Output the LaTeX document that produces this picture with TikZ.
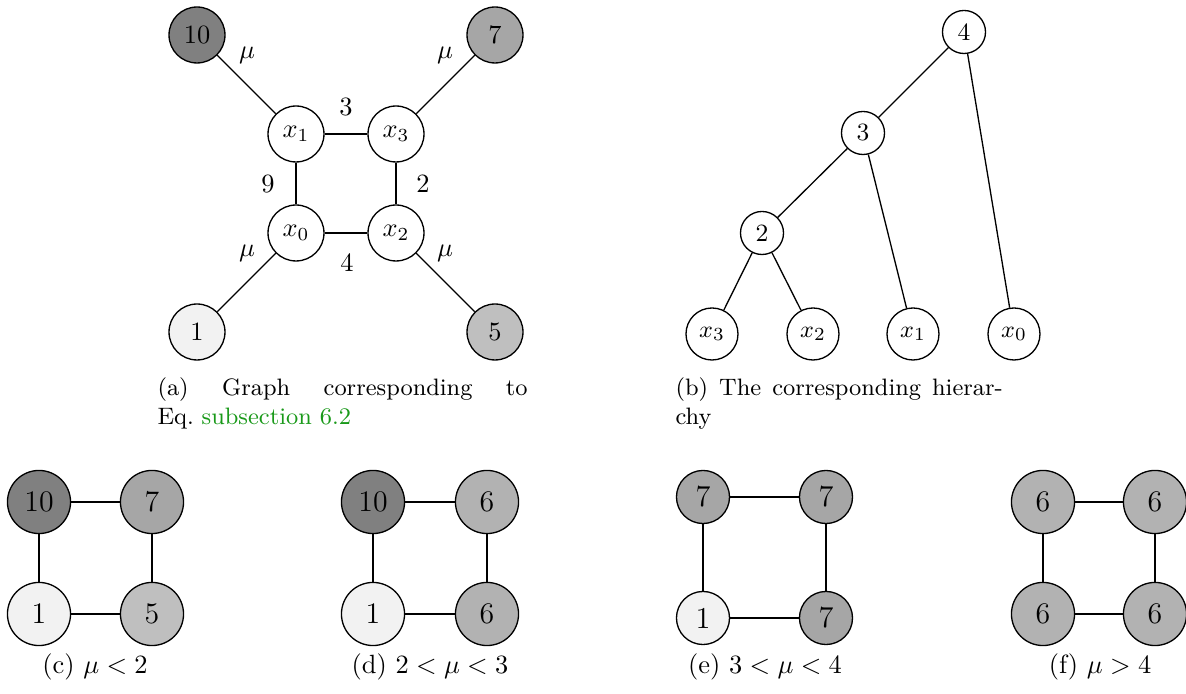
\documentclass[tikz,border=0pt]{standalone}
\definecolor{linkgreen}{rgb}{0.1,0.6,0.1}
\begin{document}
\begin{tikzpicture}[x=0.3788pt,y=-0.3788pt,
  every node/.style={inner sep=0pt},
  vtx/.style={circle,draw,line width=0.5pt,inner sep=0pt},
  anode/.style={vtx,minimum size=21.2pt,font=\fontsize{10}{12}\selectfont},
  tnode/.style={vtx,minimum size=16.3pt,font=\fontsize{9.4}{11}\selectfont},
  leaf/.style={vtx,minimum size=19.7pt,font=\fontsize{9.4}{11}\selectfont},
  bnode/.style={vtx,minimum size=23.9pt,font=\fontsize{11.3}{13}\selectfont},
  enode/.style={vtx,minimum size=20.1pt,font=\fontsize{11.5}{13}\selectfont},
  link/.style={line width=0.5pt},
  lbl/.style={font=\fontsize{10}{12}\selectfont},
  capline/.style={anchor=base,font=\fontsize{10}{12}\selectfont},
  capbox/.style={anchor=north west,align=left,font=\fontsize{9}{11}\selectfont},
]
\useasboundingbox (0,0) rectangle (1186,694);

% ---------- (a) graph ----------
\node[anode,fill=black!50] (a10) at (197,35) {10};
\node[anode,fill=black!35] (a7) at (495,35) {7};
\node[anode,fill=white] (ax1) at (296,134) {$x_1$};
\node[anode,fill=white] (ax3) at (396,134) {$x_3$};
\node[anode,fill=white] (ax0) at (296,233) {$x_0$};
\node[anode,fill=white] (ax2) at (396,233) {$x_2$};
\node[anode,fill=black!5] (a1) at (197,332) {1};
\node[anode,fill=black!25] (a5) at (495,332) {5};
\draw[link] (ax1) -- (ax3);
\draw[link] (ax1) -- (ax0);
\draw[link] (ax3) -- (ax2);
\draw[link] (ax0) -- (ax2);
\draw[link] (a10) -- (ax1);
\draw[link] (a7) -- (ax3);
\draw[link] (a1) -- (ax0);
\draw[link] (a5) -- (ax2);
\node[lbl] (mu1) at (247,55) {$\mu$};
\node[lbl] (mu2) at (445,55) {$\mu$};
\node[lbl] (mu3) at (247,253) {$\mu$};
\node[lbl] (mu4) at (445,253) {$\mu$};
\node[lbl] (w3) at (346,107) {3};
\node[lbl] (w9) at (268,184) {9};
\node[lbl] (w2) at (423,184) {2};
\node[lbl] (w4) at (347,263) {4};
\node[capbox,text width=140.2pt] (capa) at (157,377)
  {(a) \hfill Graph \hfill corresponding \hfill to\\Eq.~\textcolor{linkgreen}{subsection 6.2}};

% ---------- (b) hierarchy ----------
\node[tnode] (t4) at (964,32) {4};
\node[tnode] (t3) at (863,133) {3};
\node[tnode] (t2) at (762,233) {2};
\node[leaf] (lx3) at (712,334) {$x_3$};
\node[leaf] (lx2) at (813,334) {$x_2$};
\node[leaf] (lx1) at (913,334) {$x_1$};
\node[leaf] (lx0) at (1014,334) {$x_0$};
\draw[link] (t4) -- (t3);
\draw[link] (t4) -- (lx0);
\draw[link] (t3) -- (t2);
\draw[link] (t3) -- (lx1);
\draw[link] (t2) -- (lx3);
\draw[link] (t2) -- (lx2);
\node[capbox,text width=124pt] (capb) at (675,377)
  {(b) \hfill The \hfill corresponding \hfill hierar-\\chy};

% ---------- (c) ----------
\node[bnode,fill=black!50] (c10) at (39,502) {10};
\node[bnode,fill=black!35] (c7) at (152,502) {7};
\node[bnode,fill=black!5] (c1) at (39,614) {1};
\node[bnode,fill=black!25] (c5) at (152,614) {5};
\draw[link] (c10) -- (c7);
\draw[link] (c10) -- (c1);
\draw[link] (c7) -- (c5);
\draw[link] (c1) -- (c5);
\node[capline] (capc) at (95,674) {(c) $\mu < 2$};

% ---------- (d) ----------
\node[bnode,fill=black!50] (d10) at (373,502) {10};
\node[bnode,fill=black!30] (d6a) at (487,502) {6};
\node[bnode,fill=black!5] (d1) at (373,614) {1};
\node[bnode,fill=black!30] (d6b) at (487,614) {6};
\draw[link] (d10) -- (d6a);
\draw[link] (d10) -- (d1);
\draw[link] (d6a) -- (d6b);
\draw[link] (d1) -- (d6b);
\node[capline] (capd) at (430,674) {(d) $2 < \mu < 3$};

% ---------- (e) ----------
\node[enode,fill=black!35] (e7a) at (703,497) {7};
\node[enode,fill=black!35] (e7b) at (826,497) {7};
\node[enode,fill=black!5] (e1) at (703,618) {1};
\node[enode,fill=black!35] (e7c) at (826,618) {7};
\draw[link] (e7a) -- (e7b);
\draw[link] (e7a) -- (e1);
\draw[link] (e7b) -- (e7c);
\draw[link] (e1) -- (e7c);
\node[capline] (cape) at (765,674) {(e) $3 < \mu < 4$};

% ---------- (f) ----------
\node[bnode,fill=black!30] (f6a) at (1043,502) {6};
\node[bnode,fill=black!30] (f6b) at (1155,502) {6};
\node[bnode,fill=black!30] (f6c) at (1043,614) {6};
\node[bnode,fill=black!30] (f6d) at (1155,614) {6};
\draw[link] (f6a) -- (f6b);
\draw[link] (f6a) -- (f6c);
\draw[link] (f6b) -- (f6d);
\draw[link] (f6c) -- (f6d);
\node[capline] (capf) at (1100,674) {(f) $\mu > 4$};
\end{tikzpicture}
\end{document}
